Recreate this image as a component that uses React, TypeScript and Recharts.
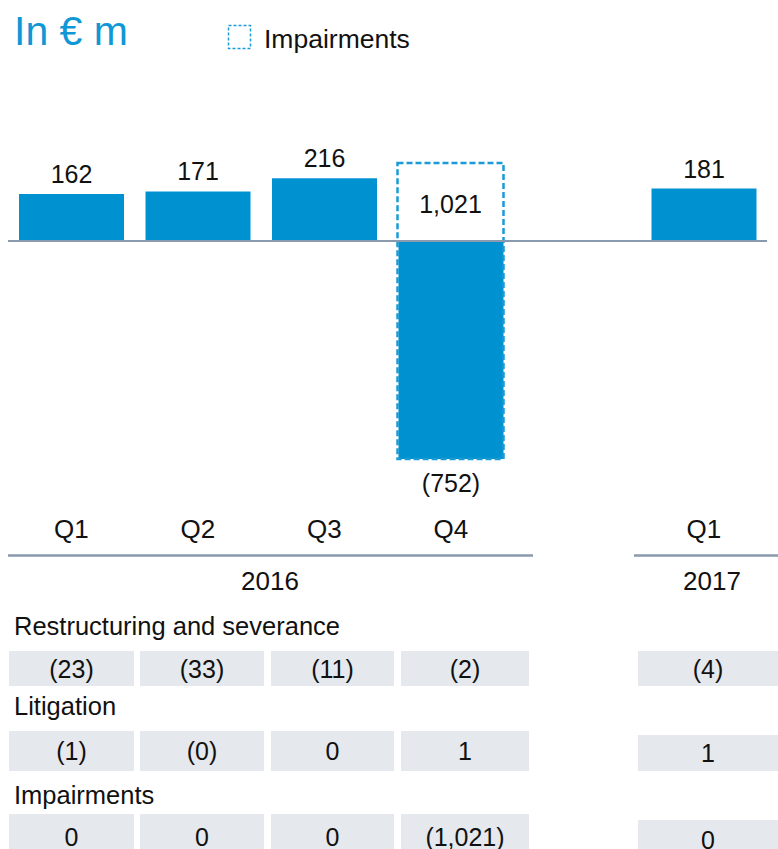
import { ComposedChart, Bar, XAxis, YAxis, ReferenceLine, LabelList } from 'recharts';

// quarters on the category axis ('gap' keeps the empty slot between 2016 and 2017)
const categories = ['Q1 2016', 'Q2 2016', 'Q3 2016', 'Q4 2016', 'gap', 'Q1 2017'];
const tickLabels = ['Q1', 'Q2', 'Q3', 'Q4', '', 'Q1'];
const ebit = [162, 171, 216, -752, null, 181];
const impairments = [0, 0, 0, 1021, null, 0];

const years = ['2016', '2017'];
const rowTitles = ['Restructuring and severance', 'Litigation', 'Impairments'];
const restructuring = ['(23)', '(33)', '(11)', '(2)', '(4)'];
const litigation = ['(1)', '(0)', '0', '1', '1'];
const impairmentRow = ['0', '0', '0', '(1,021)', '0'];

const BLUE = '#0092d0';
const DASH = '#1a9bd7';
const RULE = '#8a9aae';
const CELL = '#e5e8ed';
const INK = '#111111';
const FONT = '"Liberation Sans", Arial, sans-serif';

const data = categories.map((key, i) => ({
  key,
  value: ebit[i],
  box: impairments[i] ? [ebit[i] as number, (ebit[i] as number) + (impairments[i] as number)] : null,
}));

const fmt = (v: number) => {
  const s = Math.abs(v).toLocaleString('en-US');
  return v < 0 ? `(${s})` : s;
};

const QTick = (props: any) => {
  const { x, y, payload } = props;
  const label = tickLabels[categories.indexOf(payload.value)];
  return (
    <text x={x} y={y + 35} textAnchor="middle" fontSize={26} fill={INK} fontFamily={FONT}>
      {label}
    </text>
  );
};

const ValueLabel = (props: any) => {
  const { x, y, width, height, value } = props;
  if (value == null || Array.isArray(value)) return null;
  const top = Math.min(y, y + height);
  const bottom = Math.max(y, y + height);
  const ty = value < 0 ? bottom + 33 : top - 11;
  return (
    <text x={x + width / 2} y={ty} textAnchor="middle" fontSize={25} fill={INK} fontFamily={FONT}>
      {fmt(value)}
    </text>
  );
};

// label inside the dashed impairment box: the size of the range
const BoxLabel = (props: any) => {
  const { x, y, width, height, value } = props;
  if (!Array.isArray(value)) return null;
  const imp = Math.abs(value[1] - value[0]);
  if (!imp) return null;
  const top = Math.min(y, y + height);
  return (
    <text x={x + width / 2} y={top + 50} textAnchor="middle" fontSize={25} fill={INK} fontFamily={FONT}>
      {fmt(imp)}
    </text>
  );
};

// table layout (columns don't line up exactly with the bars in the original)
const colLeft = [9, 140, 271, 401, 638];
const colWidth = [125, 124, 123, 128, 140];
const rows = [
  { title: rowTitles[0], values: restructuring, titleY: 635, top: 651, h: 35, lastShift: 0 },
  { title: rowTitles[1], values: litigation, titleY: 715, top: 731, h: 40, lastShift: 4 },
  { title: rowTitles[2], values: impairmentRow, titleY: 804, top: 814, h: 46, lastShift: 6 },
];

export default function App() {
  return (
    <div style={{ position: 'absolute', left: 0, top: 0, width: 778, height: 849, overflow: 'hidden', background: '#fff' }}>
      <ComposedChart
        width={778}
        height={849}
        data={data}
        margin={{ top: 96, right: 11, bottom: 346, left: 8 }}
      >
        <XAxis
          xAxisId="main"
          dataKey="key"
          axisLine={false}
          tickLine={false}
          tickSize={0}
          tickMargin={0}
          height={30}
          interval={0}
          tick={<QTick />}
        />
        <XAxis xAxisId="box" dataKey="key" hide />
        <YAxis domain={[-800, 500]} allowDataOverflow hide />
        <Bar xAxisId="main" dataKey="value" fill={BLUE} barSize={105} isAnimationActive={false}>
          <LabelList dataKey="value" content={ValueLabel} />
        </Bar>
        <ReferenceLine xAxisId="main" y={0} stroke={RULE} strokeWidth={2} />
        <Bar
          xAxisId="box"
          dataKey="box"
          fill="none"
          stroke={DASH}
          strokeWidth={2.5}
          strokeDasharray="6 3"
          barSize={106}
          isAnimationActive={false}
        >
          <LabelList dataKey="box" content={BoxLabel} />
        </Bar>
      </ComposedChart>

      <svg
        width={778}
        height={849}
        style={{ position: 'absolute', left: 0, top: 0, pointerEvents: 'none' }}
        fontFamily={FONT}
      >
        <text x={14} y={45} fontSize={41} fill="#0f97d6">In € m</text>
        <rect x={228.5} y={25.5} width={22} height={23} fill="none" stroke={DASH} strokeWidth={1.5} strokeDasharray="3 2" />
        <text x={264} y={48} fontSize={26.5} fill={INK}>Impairments</text>

        <line x1={8} x2={533} y1={555.5} y2={555.5} stroke={RULE} strokeWidth={2.5} />
        <line x1={634} x2={778} y1={555.5} y2={555.5} stroke={RULE} strokeWidth={2.5} />
        <text x={270} y={590} fontSize={26} fill={INK} textAnchor="middle">{years[0]}</text>
        <text x={712} y={590} fontSize={26} fill={INK} textAnchor="middle">{years[1]}</text>

        {rows.map((r, ri) => (
          <g key={ri}>
            <text x={14} y={r.titleY} fontSize={25.5} fill={INK}>{r.title}</text>
            {r.values.map((v, ci) => {
              const shift = ci === 4 ? r.lastShift : 0;
              const top = r.top + shift;
              const h = r.h - shift;
              return (
                <g key={ci}>
                  <rect x={colLeft[ci]} y={top} width={colWidth[ci]} height={h} fill={CELL} />
                  <text
                    x={colLeft[ci] + colWidth[ci] / 2}
                    y={top + h / 2 + 9}
                    fontSize={25}
                    fill={INK}
                    textAnchor="middle"
                  >
                    {v}
                  </text>
                </g>
              );
            })}
          </g>
        ))}
      </svg>
    </div>
  );
}
